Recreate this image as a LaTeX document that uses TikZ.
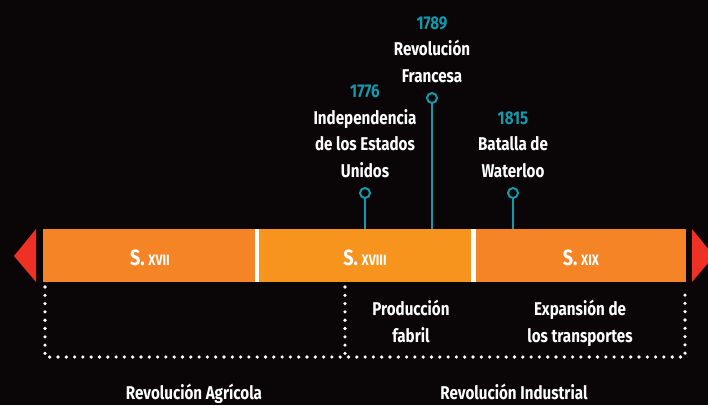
\documentclass[tikz,border=0pt]{standalone}
\usepackage{fontspec}
\setmainfont{Fira Sans}[FakeStretch=0.82]
\definecolor{fondo}{HTML}{0A0506}
\definecolor{sigloA}{HTML}{F58426}
\definecolor{sigloB}{HTML}{F7941D}
\definecolor{flecha}{HTML}{EE3124}
\definecolor{hito}{HTML}{1399AC}
\tikzset{
	siglo/.style={text=white, inner sep=0pt, font=\bfseries\fontsize{22}{22}\selectfont},
	evento/.style={text=white, align=center, inner sep=0pt, font=\bfseries\fontsize{18.5}{26.5}\selectfont},
	alfiler/.style={circle, draw=hito, line width=2pt, minimum size=10pt, inner sep=0pt},
	palo/.style={draw=hito, line width=2pt},
	puntos/.style={white, line width=3.6pt, line cap=round, dash pattern=on 0pt off 8.3pt},
}
\newcommand{\romano}[1]{{\fontsize{15}{15}\selectfont #1}}
\begin{document}
\begin{tikzpicture}[x=1pt, y=-1pt]
		
		\fill[fondo] (0,0) rectangle (708,405);
		\useasboundingbox (0,0) rectangle (708,405);
		
		% barra de siglos
		\fill[sigloA] (43,229) rectangle (255,282);
		\fill[white] (255,229) rectangle (259,282);
		\fill[sigloB] (259,229) rectangle (471,282);
		\fill[white] (471,229) rectangle (476,282);
		\fill[sigloA] (476,229) rectangle (686,282);
		\fill[flecha] (36,229) -- (14,256) -- (36,282) -- cycle;
		\fill[flecha] (692,229) -- (714,256) -- (692,282) -- cycle;
		
		\node[siglo] (s17) at (150,258) {S.\,\romano{XVII}};
		\node[siglo] (s18) at (365,258) {S.\,\romano{XVIII}};
		\node[siglo] (s19) at (581,258) {S.\,\romano{XIX}};
		
		% hitos
		\node[alfiler] (p1776) at (365,193) {};
		\node[alfiler] (p1789) at (432,98) {};
		\node[alfiler] (p1815) at (513,193) {};
		\coordinate (b1776) at (365,229);
		\coordinate (b1789) at (432,229);
		\coordinate (b1815) at (513,229);
		\draw[palo] (p1776) -- (b1776);
		\draw[palo] (p1789) -- (b1789);
		\draw[palo] (p1815) -- (b1815);
		
		\node[evento, anchor=south] (e1776) at (365,178) {\textcolor{hito}{1776}\\Independencia\\de los Estados\\Unidos};
		\node[evento, anchor=south] (e1789) at (432,83) {\textcolor{hito}{1789}\\Revolución\\Francesa};
		\node[evento, anchor=south] (e1815) at (513,178) {\textcolor{hito}{1815}\\Batalla de\\Waterloo};
		
		% etapas
		\draw[puntos] (45,287) -- (45,357) -- (685,357) -- (685,287);
		\draw[puntos] (345,287) -- (345,357);
		
		\node[evento, anchor=north] (fabril) at (411,300) {Producción\\fabril};
		\node[evento, anchor=north] (transp) at (580,300) {Expansión de\\los transportes};
		\node[evento, anchor=base] (agricola) at (194,399) {Revolución Agrícola};
		\node[evento, anchor=base] (industrial) at (514,399) {Revolución Industrial};
	\end{tikzpicture}
\end{document}
